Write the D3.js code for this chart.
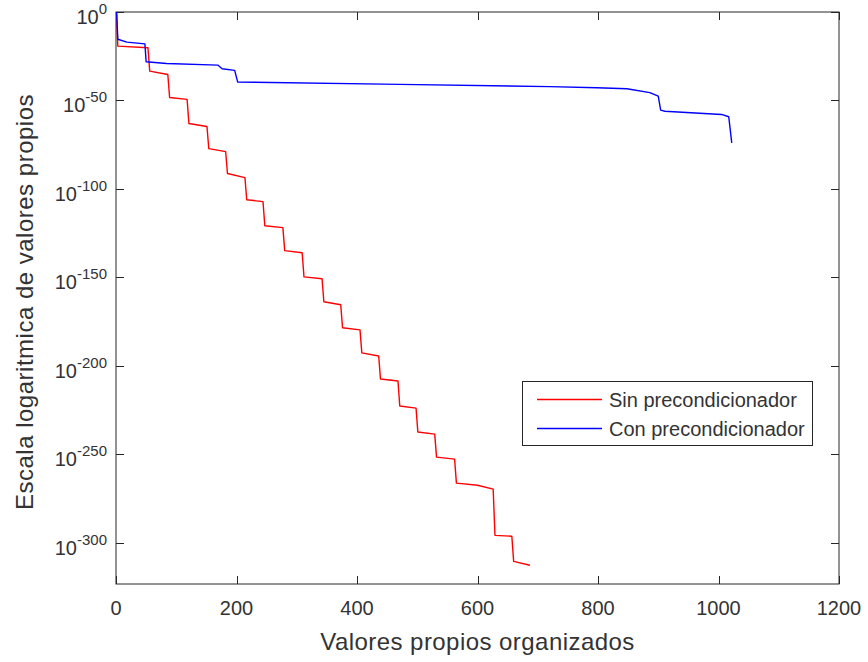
<!DOCTYPE html>
<html>
<head>
<meta charset="utf-8">
<script src="https://cdn.jsdelivr.net/npm/d3@7"></script>
<style>
  body { margin: 0; background: #fff; }
  svg text { font-family: "Liberation Sans", Arial, Helvetica, sans-serif; fill: #333; }
</style>
</head>
<body>
<script>
// eigenvalues, y stored as log10 exponent (10^y)
const redX = [1, 3, 53, 56, 86, 89, 118, 121, 151, 154, 182, 185, 214, 217, 244, 247, 277, 280, 309, 312, 342, 345,
    373, 376, 405, 408, 436, 439, 468, 471, 498, 501, 529, 532, 562, 565, 600, 626, 629, 657, 660, 687];
const redY = [-1, -19.3, -20.2, -33.4, -35.3, -48.3, -49.4, -63, -64.7, -77.2, -78.9, -91.3, -93.6, -106.1, -107.2, -120.8,
    -121.9, -134.9, -136.1, -149.7, -150.8, -163.8, -165.5, -178.5, -179.7, -192.7, -194.4, -207.4, -208.6, -222.7,
    -223.9, -237.4, -238.6, -251.6, -252.7, -266.3, -267.5, -269.7, -295.8, -296.3, -310.5, -312.7];

const blueX = [1, 3, 18, 48, 50, 84, 169, 176, 197, 202, 471, 720, 798, 848, 886, 900, 904, 911, 1005, 1017, 1022];
const blueY = [0, -15.4, -17, -18, -28.1, -29.1, -30, -32.1, -33, -39.6, -40.9, -42.2, -42.8, -43.4, -45.6, -47.6,
    -55.5, -56.1, -57.9, -59.2, -74];

const xTicks = [0, 200, 400, 600, 800, 1000, 1200];
const yTicks = [0, -50, -100, -150, -200, -250, -300];
const seriesNames = ["Sin precondicionador", "Con precondicionador"];
const seriesColors = ["#ff0000", "#0000ff"];

let width = 868;
let height = 662;
let margin = { top: 12, bottom: 78, left: 116, right: 29 };

const svg = d3.select("body").append("svg")
    .attr("width", width)
    .attr("height", height);

const xScale = d3.scaleLinear()
    .domain([0, 1200])
    .range([margin.left, width - margin.right]);

const yScale = d3.scaleLinear()
    .domain([0, -323.306])
    .range([margin.top, height - margin.bottom]);

const axisColor = "#262626";
const x0 = xScale.range()[0], x1 = xScale.range()[1];
const y0 = yScale.range()[0], y1 = yScale.range()[1];

// box
svg.append("rect")
    .attr("x", x0).attr("y", y0)
    .attr("width", x1 - x0).attr("height", y1 - y0)
    .attr("fill", "none")
    .attr("stroke", axisColor)
    .attr("stroke-width", 1);

// ticks (inside, on all four sides)
const tickLen = 8;
xTicks.forEach(t => {
    const x = Math.round(xScale(t)) + 0.5;
    svg.append("line").attr("x1", x).attr("x2", x).attr("y1", y1).attr("y2", y1 - tickLen)
        .attr("stroke", axisColor);
    svg.append("line").attr("x1", x).attr("x2", x).attr("y1", y0).attr("y2", y0 + tickLen)
        .attr("stroke", axisColor);
    svg.append("text")
        .attr("x", xScale(t))
        .attr("y", 615)
        .attr("text-anchor", "middle")
        .style("font-size", "20px")
        .text(t);
});

yTicks.forEach(t => {
    const y = Math.round(yScale(t)) + 0.5;
    svg.append("line").attr("x1", x0).attr("x2", x0 + tickLen).attr("y1", y).attr("y2", y)
        .attr("stroke", axisColor);
    svg.append("line").attr("x1", x1).attr("x2", x1 - tickLen).attr("y1", y).attr("y2", y)
        .attr("stroke", axisColor);
    const lbl = svg.append("text")
        .attr("x", 107)
        .attr("y", yScale(t) + 12)
        .attr("text-anchor", "end")
        .style("font-size", "20px");
    lbl.append("tspan").text("10");
    lbl.append("tspan")
        .attr("dy", -10)
        .style("font-size", "15px")
        .text(t);
});

// axis labels
svg.append("text")
    .attr("x", (x0 + x1) / 2)
    .attr("y", 650)
    .attr("text-anchor", "middle")
    .style("font-size", "24px")
    .style("letter-spacing", "0.45px")
    .text("Valores propios organizados");

svg.append("text")
    .attr("transform", "translate(33,302) rotate(-90)")
    .attr("text-anchor", "middle")
    .style("font-size", "24px")
    .style("letter-spacing", "0.5px")
    .text("Escala logaritmica de valores propios");

// lines
const line = d3.line()
    .x(d => xScale(d[0]))
    .y(d => yScale(d[1]));

const series = [
    d3.zip(redX, redY),
    d3.zip(blueX, blueY)
];

series.forEach((pts, i) => {
    svg.append("path")
        .datum(pts)
        .attr("d", line)
        .attr("fill", "none")
        .attr("stroke", seriesColors[i])
        .attr("stroke-width", 1.4)
        .attr("stroke-linejoin", "round");
});

// legend
const legend = svg.append("g");
legend.append("rect")
    .attr("x", 522.5).attr("y", 381.5)
    .attr("width", 290).attr("height", 64)
    .attr("fill", "#fff")
    .attr("stroke", axisColor);

seriesNames.forEach((name, i) => {
    const ly = 399.5 + i * 29;
    legend.append("line")
        .attr("x1", 537).attr("x2", 602)
        .attr("y1", ly).attr("y2", ly)
        .attr("stroke", seriesColors[i])
        .attr("stroke-width", 1.4);
    legend.append("text")
        .attr("x", 609)
        .attr("y", ly + 7.5)
        .style("font-size", "20px")
        .text(name);
});
</script>
</body>
</html>
